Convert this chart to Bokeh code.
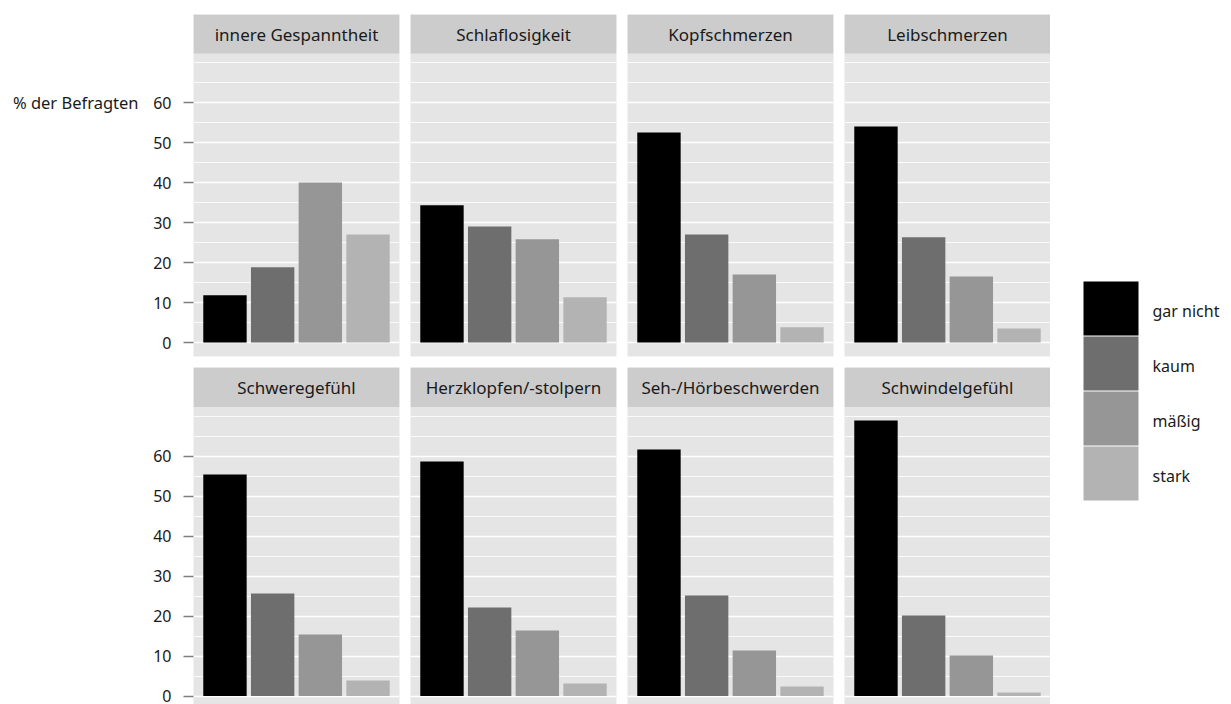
from bokeh.plotting import figure
from bokeh.models import ColumnDataSource, FixedTicker, BoxAnnotation, Label, Range1d
from bokeh.layouts import row, column
from bokeh.embed import file_html
from bokeh.resources import INLINE
from bokeh.core.properties import value

# ---------------- data ----------------
symptoms = ["innere Gespanntheit", "Schlaflosigkeit", "Kopfschmerzen", "Leibschmerzen",
            "Schweregefühl", "Herzklopfen/-stolpern", "Seh-/Hörbeschwerden", "Schwindelgefühl"]
levels = ["gar nicht", "kaum", "mäßig", "stark"]
gar_nicht = [11.8, 34.3, 52.5, 54.0, 55.4, 58.6, 61.6, 68.9]
kaum = [18.8, 29.0, 27.0, 26.3, 25.6, 22.1, 25.1, 20.1]
maessig = [40.0, 25.8, 17.0, 16.5, 15.4, 16.4, 11.4, 10.1]
stark = [27.0, 11.3, 3.8, 3.5, 3.9, 3.1, 2.4, 0.9]
level_colors = ["#000000", "#6e6e6e", "#969696", "#b3b3b3"]
y_ticks = [0, 10, 20, 30, 40, 50, 60]
y_minor = [5, 15, 25, 35, 45, 55, 65, 70]
y_label = "% der Befragten"

FONT = "Noto Sans"
TXT = "#1a1a1a"
PANEL_BG = "#e5e5e5"
STRIP_BG = "#cccccc"
STRIP_BOTTOM = 72.25
TOP_RANGE = (-3.5, 82.0)
BOTTOM_RANGE = (-2.125, 82.125)
LABEL_W = 140
TOTAL_H = 704
TOP_BORDER = 14


def make_panel(i):
    col = i % 4
    top_row = i < 4
    if top_row:
        y_rng = Range1d(*TOP_RANGE)
        fh = 342
    else:
        y_rng = Range1d(*BOTTOM_RANGE)
        fh = 337
    p = figure(frame_width=206, frame_height=fh, title=None, align="start",
               x_range=Range1d(0.34, 4.66), y_range=y_rng,
               x_axis_location=None,
               y_axis_location="left" if col == 0 else None,
               toolbar_location=None, output_backend="svg",
               min_border_left=(193 - LABEL_W) if col == 0 else 0,
               min_border_right=11 if col < 3 else 0,
               min_border_top=TOP_BORDER if top_row else 0,
               min_border_bottom=11 if top_row else 0,
               background_fill_color=PANEL_BG, border_fill_color="white",
               outline_line_color=None)
    p.xgrid.visible = False
    p.ygrid.ticker = FixedTicker(ticks=y_ticks, minor_ticks=y_minor)
    p.ygrid.grid_line_color = "white"
    p.ygrid.grid_line_width = 1.6
    p.ygrid.minor_grid_line_color = "white"
    p.ygrid.minor_grid_line_width = 0.8

    vals = [gar_nicht[i], kaum[i], maessig[i], stark[i]]
    src = ColumnDataSource(dict(x=[1, 2, 3, 4], top=vals, color=level_colors, level=levels))
    p.vbar(x="x", top="top", bottom=0, width=0.91, fill_color="color",
           line_color=None, source=src)

    p.add_layout(BoxAnnotation(bottom=STRIP_BOTTOM, fill_color=STRIP_BG, fill_alpha=1.0,
                               line_color=None))
    p.add_layout(Label(x=2.5, y=(STRIP_BOTTOM + y_rng.end) / 2, text=symptoms[i],
                       text_align="center", text_baseline="middle",
                       text_font=FONT, text_font_size="17px", text_color=TXT))

    if col == 0:
        ax = p.yaxis[0]
        ax.ticker = FixedTicker(ticks=y_ticks)
        ax.axis_line_color = None
        ax.major_tick_out = 10
        ax.major_tick_in = 0
        ax.minor_tick_line_color = None
        ax.major_tick_line_color = "#7f7f7f"
        ax.major_tick_line_width = 1.5
        ax.major_label_standoff = 12
        ax.major_label_text_font = FONT
        ax.major_label_text_font_size = "16px"
        ax.major_label_text_color = TXT
    return p


panels = [make_panel(i) for i in range(8)]

# ---------------- y-axis title (horizontal, at the top tick) ----------------
lab = figure(frame_width=LABEL_W, frame_height=342, title=None, align="start",
             x_range=Range1d(0, LABEL_W), y_range=Range1d(*TOP_RANGE),
             x_axis_location=None, y_axis_location=None,
             toolbar_location=None, output_backend="svg",
             min_border_left=0, min_border_right=0,
             min_border_top=TOP_BORDER, min_border_bottom=TOTAL_H - TOP_BORDER - 342,
             outline_line_color=None,
             background_fill_color="white", border_fill_color="white")
lab.xgrid.visible = False
lab.ygrid.visible = False
lab.text(x=[LABEL_W - 2], y=[y_ticks[-1]], text=[y_label], text_font=value(FONT),
         text_font_size=value("16.5px"), text_color=TXT, text_align="right",
         text_baseline="middle")

# ---------------- legend ----------------
LEFT, RIGHT = 1050, 1223
lg = figure(frame_width=RIGHT - LEFT, frame_height=TOTAL_H - TOP_BORDER, title=None,
            align="start",
            x_range=Range1d(LEFT, RIGHT), y_range=Range1d(TOTAL_H, TOP_BORDER),
            x_axis_location=None, y_axis_location=None,
            toolbar_location=None, output_backend="svg",
            min_border=0, min_border_top=TOP_BORDER, min_border_bottom=0,
            min_border_left=0, min_border_right=0, outline_line_color=None,
            background_fill_color="white", border_fill_color="white")
lg.xgrid.visible = False
lg.ygrid.visible = False
key_x0, key_w, key_top0, pitch, key_h = 1083, 55, 281, 55, 54
n = len(levels)
tops = [key_top0 + k * pitch for k in range(n)]
lsrc = ColumnDataSource(dict(
    left=[key_x0] * n, right=[key_x0 + key_w] * n,
    top=tops, bottom=[t + key_h for t in tops],
    color=level_colors, label=levels,
    lx=[key_x0 + key_w + 14] * n, ly=[t + key_h / 2 for t in tops]))
lg.quad(left="left", right="right", top="top", bottom="bottom",
        fill_color="color", line_color=None, source=lsrc)
lg.text(x="lx", y="ly", text="label", source=lsrc, text_font=value(FONT),
        text_font_size=value("16px"), text_color=TXT, text_align="left",
        text_baseline="middle", y_offset=2)

panel_rows = column(row(*panels[:4], align="start"), row(*panels[4:], align="start"),
                    align="start")
layout = row(lab, panel_rows, lg, align="start")

open("out.html", "w").write(file_html(layout, INLINE))
